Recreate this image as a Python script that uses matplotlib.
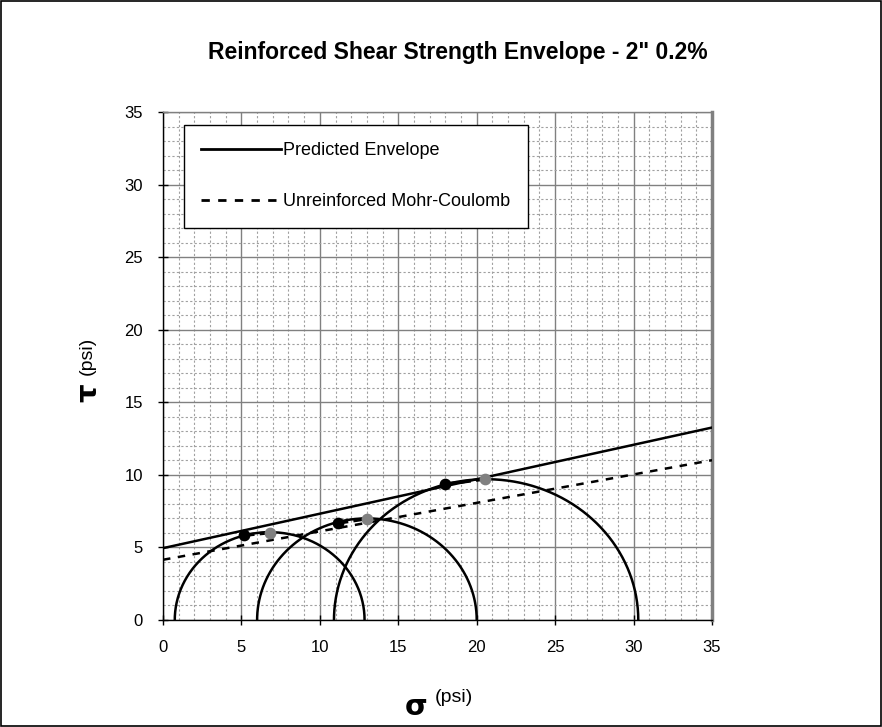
import numpy as np
import matplotlib
matplotlib.use("Agg")
import matplotlib.pyplot as plt
from matplotlib.ticker import MultipleLocator
from matplotlib.lines import Line2D
from matplotlib.patches import Rectangle

plt.rcParams['font.family'] = ['Liberation Sans', 'DejaVu Sans']

# Mohr circles (center, radius)
circle_centers = [6.8, 13.0, 20.6]
circle_radii = [6.05, 7.0, 9.7]
# failure points on envelope (black) and circle tops (gray)
black_x = [5.17, 11.15, 17.98]
black_y = [5.84, 6.68, 9.35]
gray_x = [6.81, 12.98, 20.55]
gray_y = [6.02, 6.98, 9.72]
# envelopes: intercept, slope
pred_c, pred_slope = 4.95, 0.2374
mc_c, mc_slope = 4.15, 0.196
x_ticks = [0, 5, 10, 15, 20, 25, 30, 35]
y_ticks = [0, 5, 10, 15, 20, 25, 30, 35]

fig = plt.figure(figsize=(8.82, 7.27), dpi=100)
fig.patches.append(Rectangle((0.001, 0.001), 0.998, 0.998, transform=fig.transFigure,
                             fill=False, edgecolor='black', linewidth=1.2))
ax = fig.add_axes([163/882, 1-620/727, (712-163)/882, (620-112)/727])

ax.set_xlim(0, 35)
ax.set_ylim(0, 35)
ax.xaxis.set_major_locator(MultipleLocator(5))
ax.yaxis.set_major_locator(MultipleLocator(5))
ax.xaxis.set_minor_locator(MultipleLocator(1))
ax.yaxis.set_minor_locator(MultipleLocator(1))
ax.grid(which='minor', color='#a0a0a0', linestyle=(0, (2, 2)), linewidth=0.8)
ax.grid(which='major', color='#808080', linestyle='-', linewidth=1.0)
ax.set_axisbelow(True)
ax.set_xticks(x_ticks)
ax.set_yticks(y_ticks)
ax.tick_params(which='major', direction='inout', length=7, width=1, labelsize=12, pad=11)
ax.tick_params(which='minor', length=0)
for s in ['left', 'bottom']:
    ax.spines[s].set_color('black')
    ax.spines[s].set_linewidth(1.0)
ax.spines['top'].set_color('#808080')
ax.spines['right'].set_color('#808080')
ax.spines['right'].set_linewidth(2.5)
ax.spines['top'].set_linewidth(1.0)

xs = np.linspace(0, 35, 200)
ax.plot(xs, pred_c + pred_slope * xs, color='black', lw=1.8, zorder=4)
ax.plot(xs, mc_c + mc_slope * xs, color='black', lw=1.8, linestyle=(0, (3, 3)), zorder=4)

theta = np.linspace(0, np.pi, 300)
for c, r in zip(circle_centers, circle_radii):
    ax.plot(c + r * np.cos(theta), r * np.sin(theta), color='black', lw=1.8, zorder=4)

for bx, by, gx, gy in zip(black_x, black_y, gray_x, gray_y):
    ax.plot([bx, gx], [by, gy], color='black', lw=2.5, linestyle=(0, (3, 1.5)), zorder=5)
ax.scatter(black_x, black_y, s=55, color='black', zorder=6)
ax.scatter(gray_x, gray_y, s=55, color='#808080', zorder=6)

fig.text(458/882, 1-52/727, 'Reinforced Shear Strength Envelope - 2" 0.2%', ha='center', va='center',
         fontsize=16.5, fontweight='bold')

# y label
fig.text(88/882, 1-393/727, 'τ', rotation=90, ha='center', va='center', fontsize=21,
         fontweight='bold', family=['DejaVu Sans'])
fig.text(87/882, 1-356/727, '(psi)', rotation=90, ha='center', va='center', fontsize=14)
# x label
fig.text(416/882, 1-707/727, 'σ', ha='center', va='center', fontsize=21,
         fontweight='bold', family=['DejaVu Sans'])
fig.text(454/882, 1-697/727, '(psi)', ha='center', va='center', fontsize=14)

handles = [Line2D([], [], color='black', lw=2),
           Line2D([], [], color='black', lw=2, linestyle=(0, (3, 3)))]
leg = ax.legend(handles, ['Predicted Envelope', 'Unreinforced Mohr-Coulomb'],
                loc='upper left', bbox_to_anchor=((184-163)/549, 1-(125-112)/508),
                frameon=True, fancybox=False, edgecolor='black', framealpha=1,
                fontsize=13, handlelength=4.4, handletextpad=0.15, labelspacing=1.9,
                borderpad=0.95, borderaxespad=0)
leg.get_frame().set_linewidth(1.0)

fig.savefig('out.png', dpi=100)
